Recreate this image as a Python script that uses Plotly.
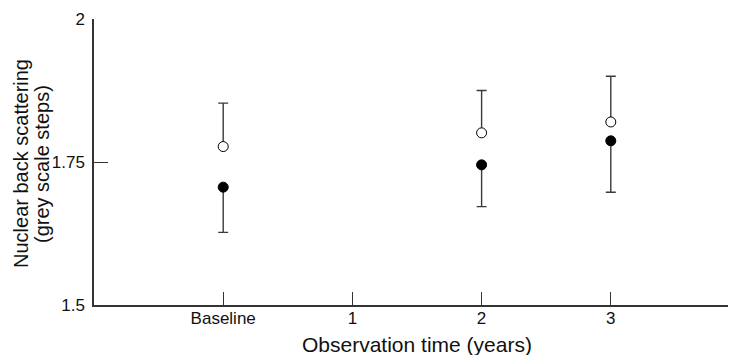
import plotly.graph_objects as go

categories = ["Baseline", "1", "2", "3"]
x_pos = [0, 2, 3]
open_mean = [1.777, 1.801, 1.820]
open_upper = [1.853, 1.875, 1.900]
filled_mean = [1.706, 1.745, 1.787]
filled_lower = [1.627, 1.672, 1.697]
y_ticks = [1.5, 1.75, 2]
y_ticktext = ["1.5", "1.75", "2"]
x_title = "Observation time (years)"
y_title_lines = ["Nuclear back scattering", "(grey scale steps)"]

FONT = "Liberation Sans, Arial, sans-serif"
BAR = "#3a3a3a"

err_up = [u - m for u, m in zip(open_upper, open_mean)]
err_dn = [m - l for m, l in zip(filled_mean, filled_lower)]

fig = go.Figure()
fig.add_trace(go.Scatter(
    x=x_pos, y=open_mean, mode="markers",
    marker=dict(symbol="circle", size=10, color="white", line=dict(color="black", width=1)),
    error_y=dict(type="data", symmetric=False, array=err_up, arrayminus=[0] * len(err_up),
                 color=BAR, thickness=1.4, width=5),
    showlegend=False,
))
fig.add_trace(go.Scatter(
    x=x_pos, y=filled_mean, mode="markers",
    marker=dict(symbol="circle", size=10, color="black", line=dict(color="black", width=1)),
    error_y=dict(type="data", symmetric=False, array=[0] * len(err_dn), arrayminus=err_dn,
                 color=BAR, thickness=1.4, width=5),
    showlegend=False,
))

fig.update_layout(
    width=736, height=347,
    margin=dict(l=86, r=4, t=11, b=50, autoexpand=False),
    paper_bgcolor="white", plot_bgcolor="white",
    font=dict(family=FONT, color="#111", size=17),
    xaxis=dict(
        range=[-1, 4], tickmode="array", tickvals=[0, 1, 2, 3], ticktext=categories,
        ticks="inside", ticklen=13, tickwidth=1.2, tickcolor="#333",
        showline=True, linecolor="#333", linewidth=1.5, showgrid=False, zeroline=False,
        tickfont=dict(size=17), ticklabelstandoff=-3,
    ),
    yaxis=dict(
        range=[1.5, 2], tickmode="array", tickvals=y_ticks, ticktext=y_ticktext,
        ticks="inside", ticklen=14, tickwidth=1.2, tickcolor="#333",
        showline=True, linecolor="#333", linewidth=1.5, showgrid=False, zeroline=False,
        tickfont=dict(size=17), ticklabelstandoff=4,
    ),
    annotations=[
        dict(text=x_title, xref="paper", yref="paper", x=0.5, y=0, xanchor="center",
             yanchor="middle", yshift=-39, showarrow=False, font=dict(size=21)),
        dict(text=y_title_lines[0], xref="paper", yref="paper", x=0, y=0.5, xanchor="center",
             yanchor="middle", xshift=-73, yshift=-2, textangle=-90, showarrow=False,
             font=dict(size=20)),
        dict(text=y_title_lines[1], xref="paper", yref="paper", x=0, y=0.5, xanchor="center",
             yanchor="middle", xshift=-52, yshift=-2, textangle=-90, showarrow=False,
             font=dict(size=20)),
    ],
)

fig.write_html("out.html")
